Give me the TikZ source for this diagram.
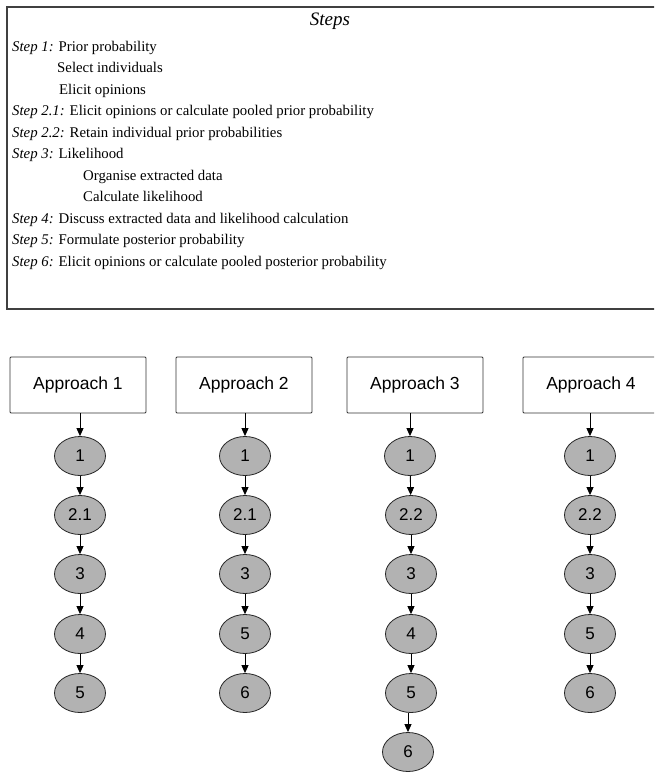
\documentclass[tikz,border=0pt]{standalone}
\usepackage{fontspec}
\setmainfont{Liberation Serif}
\setsansfont{Liberation Sans}
\usetikzlibrary{shapes.geometric,arrows.meta}

\tikzset{
  steptxt/.style={anchor=base west, inner sep=0pt, font=\fontsize{14.8}{18}\selectfont},
  approach/.style={draw=black!80, line width=0.8pt, rounded corners=1pt, minimum width=136pt, minimum height=56pt, font=\sffamily\fontsize{17.5}{20}\selectfont},
  stage/.style={ellipse, draw=black!85, line width=0.8pt, fill=black!30, minimum width=51pt, minimum height=39pt, inner sep=0pt, font=\sffamily\fontsize{17}{20}\selectfont},
  flow/.style={-{Triangle[length=8pt,width=7pt]}, line width=0.9pt}
}

\begin{document}
\begin{tikzpicture}[x=1pt,y=-1pt]
    \useasboundingbox (0,0) rectangle (654,774);
    \clip (0,0) rectangle (654,774);

    % box of steps
    \draw[black!75, line width=1.1pt] (7,7) rectangle (662,309);
    \node[font=\itshape\fontsize{19}{22}\selectfont] (head) at (330,21) {Steps};

    \node[steptxt] (s1) at (12,51) {\textit{Step 1:} Prior probability};
    \node[steptxt] (s1a) at (57,72.5) {Select individuals};
    \node[steptxt] (s1b) at (59,94) {Elicit opinions};
    \node[steptxt] (s21) at (12,115.5) {\textit{Step 2.1:} Elicit opinions or calculate pooled prior probability};
    \node[steptxt] (s22) at (12,137) {\textit{Step 2.2:} Retain individual prior probabilities};
    \node[steptxt] (s3) at (12,158.5) {\textit{Step 3:} Likelihood};
    \node[steptxt] (s3a) at (83,180) {Organise extracted data};
    \node[steptxt] (s3b) at (83,201.5) {Calculate likelihood};
    \node[steptxt] (s4) at (12,223) {\textit{Step 4:} Discuss extracted data and likelihood calculation};
    \node[steptxt] (s5) at (12,244.5) {\textit{Step 5:} Formulate posterior probability};
    \node[steptxt] (s6) at (12,266) {\textit{Step 6:} Elicit opinions or calculate pooled posterior probability};

    % approaches
    \node[approach] (a1) at (78,385) {Approach 1};
    \node[approach] (a2) at (244,385) {Approach 2};
    \node[approach] (a3) at (415,385) {Approach 3};
    \node[approach] (a4) at (591,385) {Approach 4};

    \node[stage] (a1e1) at (80,456) {1};
    \node[stage] (a1e2) at (80,515) {2.1};
    \node[stage] (a1e3) at (80,574) {3};
    \node[stage] (a1e4) at (80,634) {4};
    \node[stage] (a1e5) at (80,693) {5};

    \node[stage] (a2e1) at (245,456) {1};
    \node[stage] (a2e2) at (245,515) {2.1};
    \node[stage] (a2e3) at (245,574) {3};
    \node[stage] (a2e4) at (245,634) {5};
    \node[stage] (a2e5) at (245,693) {6};

    \node[stage] (a3e1) at (410,456) {1};
    \node[stage] (a3e2) at (411,515) {2.2};
    \node[stage] (a3e3) at (411,574) {3};
    \node[stage] (a3e4) at (411,634) {4};
    \node[stage] (a3e5) at (411,693) {5};
    \node[stage] (a3e6) at (408,752) {6};

    \node[stage] (a4e1) at (590,456) {1};
    \node[stage] (a4e2) at (590,515) {2.2};
    \node[stage] (a4e3) at (590,574) {3};
    \node[stage] (a4e4) at (590,634) {5};
    \node[stage] (a4e5) at (590,693) {6};

    \draw[flow] (a1e1 |- a1.south) -- (a1e1);
    \draw[flow] (a2e1 |- a2.south) -- (a2e1);
    \draw[flow] (a3e1 |- a3.south) -- (a3e1);
    \draw[flow] (a4e1 |- a4.south) -- (a4e1);

    \draw[flow] (a1e1) -- (a1e2);
    \draw[flow] (a1e2) -- (a1e3);
    \draw[flow] (a1e3) -- (a1e4);
    \draw[flow] (a1e4) -- (a1e5);

    \draw[flow] (a2e1) -- (a2e2);
    \draw[flow] (a2e2) -- (a2e3);
    \draw[flow] (a2e3) -- (a2e4);
    \draw[flow] (a2e4) -- (a2e5);

    \draw[flow] (a3e1) -- (a3e2);
    \draw[flow] (a3e2) -- (a3e3);
    \draw[flow] (a3e3) -- (a3e4);
    \draw[flow] (a3e4) -- (a3e5);
    \draw[flow] (a3e5.south -| a3e6) -- (a3e6);

    \draw[flow] (a4e1) -- (a4e2);
    \draw[flow] (a4e2) -- (a4e3);
    \draw[flow] (a4e3) -- (a4e4);
    \draw[flow] (a4e4) -- (a4e5);
\end{tikzpicture}
\end{document}
